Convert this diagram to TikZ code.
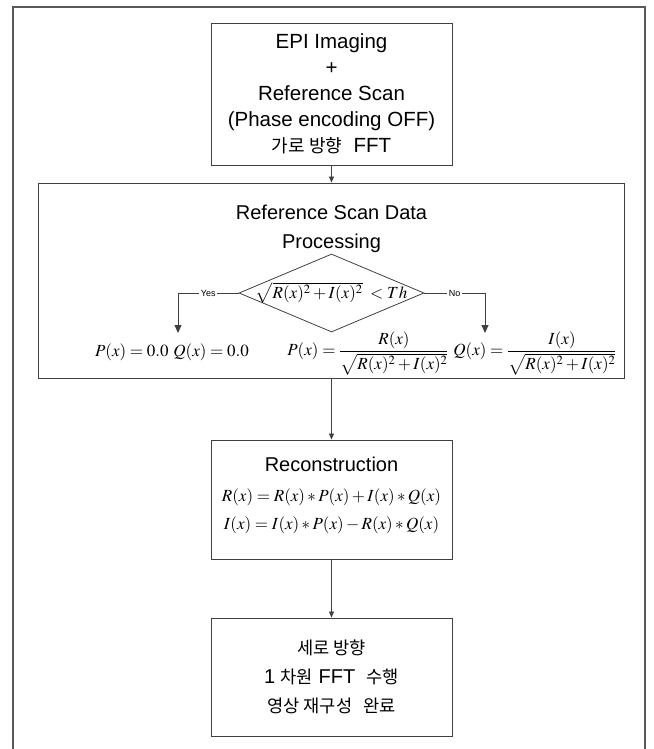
\documentclass[tikz,border=0pt]{standalone}
\usepackage{amsmath}
\usepackage{mathptmx}
\usepackage[no-math]{fontspec}
\setmainfont{Liberation Sans}
\newfontfamily\kr[Scale=0.88]{Noto Sans CJK KR}
\usetikzlibrary{shapes.geometric,arrows.meta}
\begin{document}
\begin{tikzpicture}[x=1pt,y=-1pt,
  box/.style={draw=black!75, line width=0.9pt, align=center, inner sep=0pt, font=\fontsize{20}{29}\selectfont},
  txt/.style={align=center, inner sep=0pt, font=\fontsize{20}{29}\selectfont},
  arr/.style={draw=black!75, line width=0.8pt, -{Triangle[width=5pt,length=6pt]}},
  barr/.style={draw=black!75, line width=0.8pt, -{Triangle[width=7pt,length=8pt]}},
  mth/.style={font=\fontsize{17}{20}\selectfont, inner sep=0pt},
  lab/.style={font=\fontsize{9}{10}\selectfont, fill=white, inner sep=1.5pt},
]
\useasboundingbox (0,0) rectangle (653,749);
\draw[black!65, line width=2pt] (13,749) -- (13,7) -- (645,7) -- (645,749);

\node[box, minimum width=241, minimum height=142, font=\fontsize{20.5}{26}\selectfont] (top) at (331.5,94)
  {EPI Imaging\\+\\Reference Scan\\(Phase encoding OFF)\\{\kr 가로 방향}\ \ FFT};

\node[box, minimum width=586, minimum height=195] (proc) at (331.5,280.5) {};
\node[txt] (ptitle) at (331.5,229) {Reference Scan Data\\Processing};
\node[diamond, draw=black!75, line width=0.8pt, minimum width=185, minimum height=78, inner sep=0pt] (dia) at (331.5,293) {};
\node[mth] (cond) at (331.5,293) {$\sqrt{R(x)^2+I(x)^2}\;<Th$};
\coordinate (yesend) at (178,333);
\coordinate (noend) at (485,333);
\draw[barr] (dia.west) -| node[lab, pos=0.25]{Yes} (yesend);
\draw[barr] (dia.east) -| node[lab, pos=0.25]{No} (noend);
\node[mth] (f0) at (172,352) {$P(x)=0.0\ Q(x)=0.0$};
\node[mth] (f1) at (452,353) {$P(x)=\dfrac{R(x)}{\sqrt{R(x)^2+I(x)^2}}\ Q(x)=\dfrac{I(x)}{\sqrt{R(x)^2+I(x)^2}}$};

\node[box, minimum width=241, minimum height=119] (rec) at (331.5,499.5) {};
\node[txt] (rect) at (331.5,464) {Reconstruction};
\node[mth] (req1) at (331.5,497) {$R(x)=R(x)\ast P(x)+I(x)\ast Q(x)$};
\node[mth] (req2) at (331.5,525) {$I(x)=I(x)\ast P(x)-R(x)\ast Q(x)$};

\node[box, minimum width=241, minimum height=118] (fin) at (331.5,677)
  {{\kr 세로 방향}\\1 {\kr 차원} FFT\ \ {\kr 수행}\\{\kr 영상 재구성}\ \ {\kr 완료}};

\draw[arr] (top.south) -- (proc.north);
\draw[arr] (proc.south) -- (rec.north);
\draw[arr] (rec.south) -- (fin.north);
\end{tikzpicture}
\end{document}
